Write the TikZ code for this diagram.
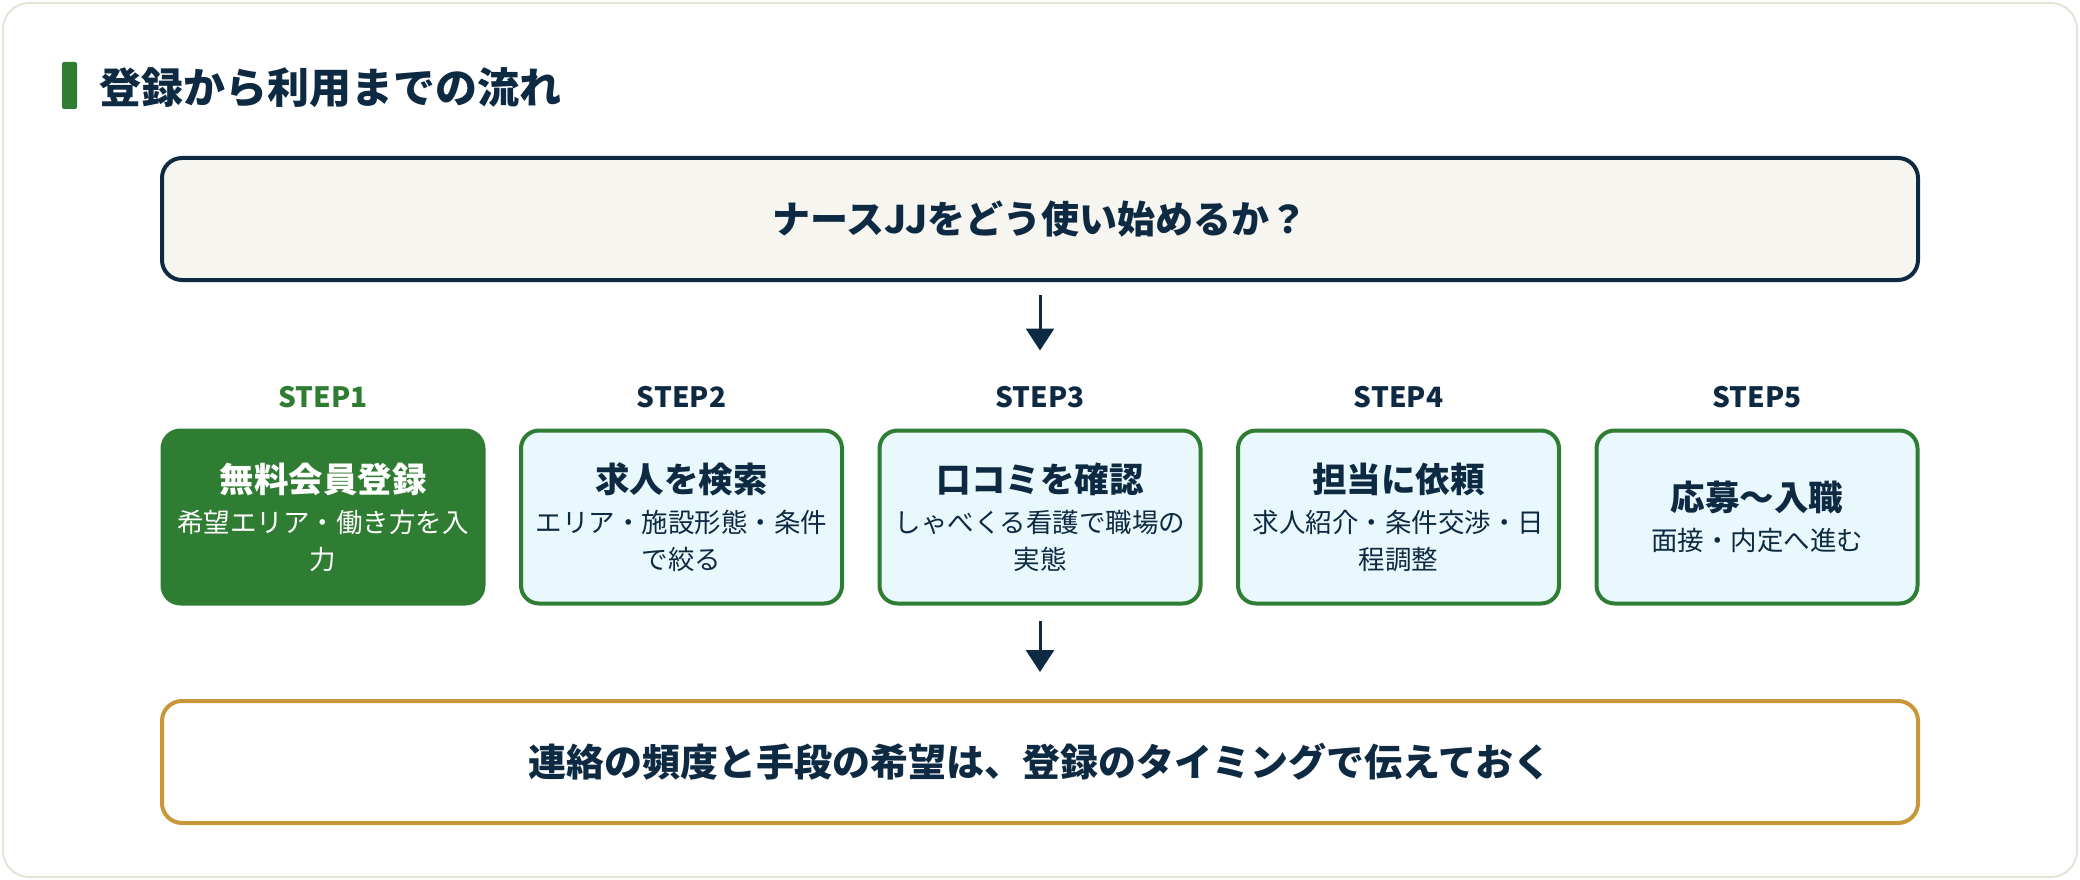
\documentclass[tikz,border=0pt]{standalone}
\usepackage{fontspec}
\setmainfont{Noto Sans CJK JP}
\usepackage{tikz}
\usetikzlibrary{shapes,positioning,calc}
\usetikzlibrary{arrows.meta}
\definecolor{navy}{HTML}{0E2A43}
\definecolor{stepgreen}{HTML}{2E7D32}
\definecolor{stepcyan}{HTML}{E9F8FC}
\definecolor{gold}{HTML}{C9963A}
\definecolor{paper}{HTML}{F6F5F0}
\definecolor{frame}{HTML}{E6E4D9}
\tikzstyle{stepbox} = [rectangle, 
rounded corners=18pt, minimum width=321pt, minimum height=173pt, align=center, draw=stepgreen, line width=4pt, fill=stepcyan, text=navy, font=\fontsize{26.5}{37}\selectfont]
\tikzstyle{firstbox} = [stepbox, fill=stepgreen, text=white]
\tikzstyle{steplabel} = [font=\fontsize{28}{32}\selectfont\bfseries, text=navy]
\tikzstyle{bigbox} = [rectangle, 
rounded corners=20pt, minimum width=1756pt, minimum height=122pt, text centered, line width=4pt, text=navy, font=\fontsize{38}{44}\selectfont\bfseries]
\tikzstyle{arrow} = [line width=3pt, draw=navy, -{Triangle[length=22pt,width=28pt]}]
\newcommand{\boxtitle}[1]{{\fontsize{34.5}{40}\selectfont\bfseries #1}\\[3pt]}

\begin{document}
\begin{tikzpicture}[x=1pt,y=-1pt]
	\useasboundingbox (0,0) rectangle (2080,880);
	\draw[frame, line width=2pt, fill=white, rounded corners=26pt] (3,3) rectangle (2077,877);
	% heading
	\fill[stepgreen, rounded corners=2pt] (62,62) rectangle (77,109);
	\node[anchor=west, inner sep=0pt, text=navy, font=\fontsize{42}{50}\selectfont\bfseries] (title) at (99,88) {登録から利用までの流れ};
	% question
	\node (top) at (1040,219) [bigbox, draw=navy, fill=paper] {ナースJJをどう使い始めるか？};
	% steps
	\node[steplabel, text=stepgreen] (l1) at (323,397) {STEP1};
	\node[steplabel] (l2) at (681.5,397) {STEP2};
	\node[steplabel] (l3) at (1040,397) {STEP3};
	\node[steplabel] (l4) at (1398.5,397) {STEP4};
	\node[steplabel] (l5) at (1757,397) {STEP5};
	\node (s1) at (323,517) [firstbox] {\boxtitle{無料会員登録}希望エリア・働き方を入\\力};
	\node (s2) at (681.5,517) [stepbox] {\boxtitle{求人を検索}エリア・施設形態・条件\\で絞る};
	\node (s3) at (1040,517) [stepbox] {\boxtitle{口コミを確認}しゃべくる看護で職場の\\実態};
	\node (s4) at (1398.5,517) [stepbox] {\boxtitle{担当に依頼}求人紹介・条件交渉・日\\程調整};
	\node (s5) at (1757,517) [stepbox] {\boxtitle{応募〜入職}面接・内定へ進む};
	% note
	\node (note) at (1040,762) [bigbox, draw=gold, fill=white] {連絡の頻度と手段の希望は、登録のタイミングで伝えておく};
	\draw[arrow, shorten <=13pt, shorten >=78pt] (top) -- (s3);
	\draw[arrow, shorten <=15pt, shorten >=27pt] (s3) -- (note);
\end{tikzpicture}
\end{document}
